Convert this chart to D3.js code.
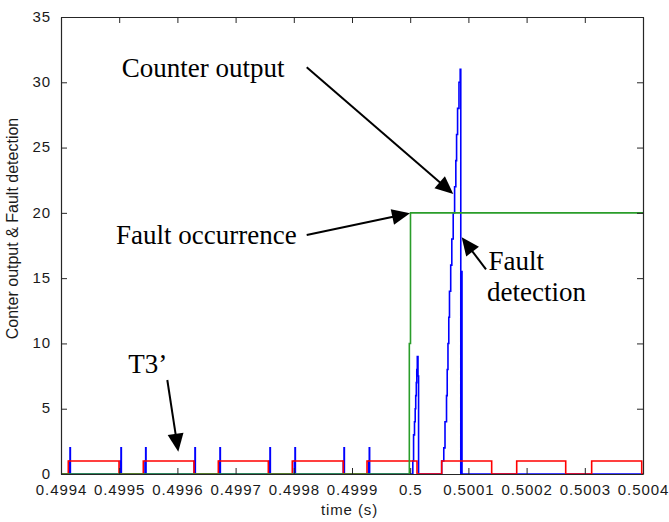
<!DOCTYPE html>
<html>
<head>
<meta charset="utf-8">
<script src="https://cdn.jsdelivr.net/npm/d3@7"></script>
<style>
  body { margin: 0; background: #fff; }
  .tick text { font-family: "Liberation Sans", Arial, sans-serif; font-size: 15px; letter-spacing: 0.9px; fill: #1a1a1a; }
  .axis path, .axis line { stroke: #262626; }
  .label { font-family: "Liberation Sans", Arial, sans-serif; fill: #1a1a1a; }
  .note { font-family: "Liberation Serif", "Times New Roman", serif; font-size: 27px; fill: #000; }
</style>
</head>
<body>
<div class="graphic"></div>
<script>
// ticks
const xTicks = [0.4994, 0.4995, 0.4996, 0.4997, 0.4998, 0.4999, 0.5, 0.5001, 0.5002, 0.5003, 0.5004]
const xTickLabels = ["0.4994", "0.4995", "0.4996", "0.4997", "0.4998", "0.4999", "0.5", "0.5001", "0.5002", "0.5003", "0.5004"]
const yTicks = [0, 5, 10, 15, 20, 25, 30, 35]

// T3' signal (red): rising / falling edge times, level 1
const t3Rise = [0.4994125, 0.4995414, 0.4996703, 0.4997974, 0.4999258, 0.5000541, 0.5001830, 0.5003118]
const t3Fall = [0.4994997, 0.4996285, 0.4997562, 0.4998851, 0.5000117, 0.5001400, 0.5002672, 0.5003978]

// counter spikes before the fault (blue), peak value 2
const spikeTimes = [0.4994155, 0.4995031, 0.4995455, 0.4996302, 0.4996732, 0.4997591, 0.4998021, 0.4998863, 0.4999297]
const spikePeaks = [2, 2, 2, 2, 2, 2, 2, 2, 2]

// counter ramps after the fault (blue): step times and counter values
const rampTimes = [0.5000045, 0.5000058, 0.5000074, 0.5000086, 0.5000095, 0.5000105, 0.5000113, 0.5000122, 0.5000134, 0.5000144,
                   0.5000541, 0.5000577, 0.5000598, 0.5000624, 0.5000636, 0.5000649, 0.5000663, 0.5000675, 0.5000696, 0.5000715,
                   0.5000739, 0.5000763, 0.5000784, 0.5000797, 0.5000814, 0.5000838, 0.5000859, 0.5000869, 0.5000878, 0.5000890]
const rampValues = [1, 3, 4, 5, 6, 7, 8, 9, 7.5, 0,
                    1, 2, 4, 6, 8, 10, 12, 14, 16, 18,
                    20, 22, 24, 26, 28, 30, 31, 0, 15.5, 0]

// fault occurrence (green)
const faultTimes = [0.4994, 0.4999985, 0.5000005, 0.5004]
const faultValues = [0, 10, 20, 20]

const width = 669
const height = 522
const margin = {top: 17, right: 26, bottom: 48, left: 61}

const x = d3.scaleLinear().domain([0.4994, 0.5004]).range([margin.left, width - margin.right])
const y = d3.scaleLinear().domain([0, 35]).range([height - margin.bottom, margin.top])

const svg = d3.select(".graphic").append("svg")
    .attr("width", width)
    .attr("height", height)
    .style("background", "#fff")

// build step series
let red = [[0.4994, 0]]
t3Rise.forEach(function(t, i){
    red.push([t, 1])
    red.push([t3Fall[i], 0])
})
red.push([0.5004, 0])

let blue = [[0.4994, 0]]
spikeTimes.forEach(function(t, i){
    blue.push([t - 0.0000012, spikePeaks[i] / 2])
    blue.push([t, spikePeaks[i]])
    blue.push([t + 0.0000006, 0])
})
rampTimes.forEach(function(t, i){
    blue.push([t, rampValues[i]])
})
blue.push([0.5004, 0])

let green = faultTimes.map(function(t, i){ return [t, faultValues[i]] })

const line = d3.line()
    .x(d => x(d[0]))
    .y(d => y(d[1]))
    .curve(d3.curveStepAfter)

svg.append("path").datum(blue)
    .attr("d", line).attr("fill", "none")
    .attr("stroke", "#0000ff").attr("stroke-width", 1.6)

svg.append("path").datum(red)
    .attr("d", line).attr("fill", "none")
    .attr("stroke", "#ff0000").attr("stroke-width", 1.6)

svg.append("path").datum(green)
    .attr("d", line).attr("fill", "none")
    .attr("stroke", "#2a9d2a").attr("stroke-width", 1.6)

// axes (box with inward ticks)
const y0 = height - margin.bottom
const x1 = width - margin.right

svg.append("g").attr("class", "axis")
    .attr("transform", "translate(0," + y0 + ")")
    .call(d3.axisBottom(x).tickValues(xTicks).tickFormat((d, i) => xTickLabels[i]).tickSizeInner(-6).tickSizeOuter(0).tickPadding(10))

svg.append("g").attr("class", "axis")
    .attr("transform", "translate(0," + margin.top + ")")
    .call(d3.axisTop(x).tickValues(xTicks).tickFormat("").tickSizeInner(-6).tickSizeOuter(0))

svg.append("g").attr("class", "axis yleft")
    .attr("transform", "translate(" + margin.left + ",0)")
    .call(d3.axisLeft(y).tickValues(yTicks).tickSizeInner(-6).tickSizeOuter(0).tickPadding(10))

svg.selectAll(".yleft .tick text").attr("dy", "0.28em")

svg.append("g").attr("class", "axis")
    .attr("transform", "translate(" + x1 + ",0)")
    .call(d3.axisRight(y).tickValues(yTicks).tickFormat("").tickSizeInner(-6).tickSizeOuter(0))

svg.selectAll(".axis .domain").attr("stroke-width", 1.2)

svg.append("text")
    .attr("class", "label")
    .attr("x", 349.5)
    .attr("y", 515)
    .attr("text-anchor", "middle")
    .style("font-size", "15px")
    .style("letter-spacing", "0.9px")
    .text("time (s)")

svg.append("text")
    .attr("class", "label")
    .attr("transform", "translate(18,228.5) rotate(-90)")
    .attr("text-anchor", "middle")
    .style("font-size", "16px")
    .text("Conter output & Fault detection")

// annotations
const notes = [
    {text: "Counter output", x: 121.7, y: 76.5},
    {text: "Fault occurrence", x: 116, y: 243.5},
    {text: "Fault", x: 488.5, y: 270},
    {text: "detection", x: 487, y: 300.5},
    {text: "T3\u2019", x: 128.3, y: 373.3}
]
svg.selectAll("text.note")
    .data(notes)
    .enter()
    .append("text")
    .attr("class", "note")
    .attr("x", d => d.x)
    .attr("y", d => d.y)
    .text(d => d.text)

const arrows = [
    {x0: 306.7, y0: 67.3, x1: 453.3, y1: 194},
    {x0: 306.7, y0: 235, x1: 410, y1: 213.3},
    {x0: 486, y0: 269.3, x1: 461.7, y1: 237.3},
    {x0: 167.3, y0: 380, x1: 178.3, y1: 451.7}
]
const headLen = 18
const headHalf = 8
arrows.forEach(function(a){
    let dx = a.x1 - a.x0
    let dy = a.y1 - a.y0
    let len = Math.sqrt(dx * dx + dy * dy)
    let ux = dx / len, uy = dy / len
    let bx = a.x1 - ux * headLen, by = a.y1 - uy * headLen
    svg.append("line")
        .attr("x1", a.x0).attr("y1", a.y0)
        .attr("x2", bx + ux * 2).attr("y2", by + uy * 2)
        .attr("stroke", "#000").attr("stroke-width", 2)
    svg.append("path")
        .attr("d", "M" + a.x1 + "," + a.y1 +
            " L" + (bx - uy * headHalf) + "," + (by + ux * headHalf) +
            " L" + (bx + uy * headHalf) + "," + (by - ux * headHalf) + " Z")
        .attr("fill", "#000")
})
</script>
</body>
</html>
